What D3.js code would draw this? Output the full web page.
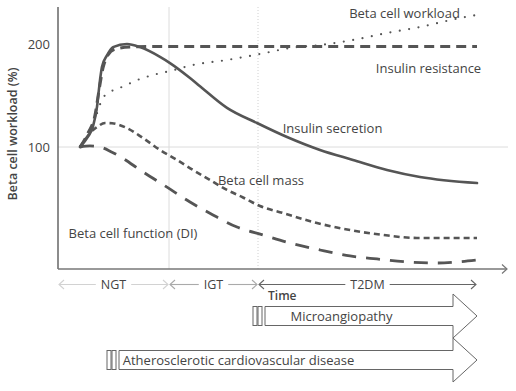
<!DOCTYPE html>
<html>
<head>
<meta charset="utf-8">
<script src="https://cdn.jsdelivr.net/npm/d3@7"></script>
<style>
  html, body { margin: 0; padding: 0; background: #fff; }
  svg { display: block; font-family: "Open Sans", sans-serif; }
</style>
</head>
<body>
<svg id="chart" width="516" height="391"></svg>
<script>
// ---------------- DATA (time units, workload %) ----------------
const insulinSecretion = [[22,100],[30,110],[35,120],[39,139],[42,165],[44,178],[49,189],[55,197],[69,200],[82,197],[102,187.5],[112,181.5],[132,167],[142,159],[169,138],[199,123.3],[229,109.7],[262,97.1],[295,87.4],[329,77.7],[362,70.9],[419,65]];
const insulinResistance = [[22,100],[30,113.6],[37,131],[41,155],[45,176.7],[50,189.3],[57,195.1],[72,197.1],[92,197.5],[200,197.6],[300,197.5],[419,197.5]];
const betaCellWorkload = [[22,100],[32,116.5],[37,126.2],[40,135.9],[45,147.6],[52,153.4],[64,158.3],[82,166],[99,170.9],[112,173.8],[135,179.6],[169,184.5],[202,190.3],[235,196.6],[262,199],[295,203.9],[329,210.7],[362,216.5],[402,225.2],[419,228.2]];
const betaCellMass = [[22,100],[27,106.8],[32,113.6],[39,119.4],[47,123.3],[54,123],[69,118.4],[85,108.7],[102,97.1],[119,87.4],[135,77.7],[152,68],[169,58.3],[185,51],[202,42.7],[225,35.9],[259,26.2],[292,19.4],[325,14.6],[359,11.7],[419,11.7]];
const betaCellFunction = [[22,100],[32,101],[40,100.5],[54,95],[65,89],[82,77.7],[109,61],[132,46.6],[155,34],[179,22.3],[205,14.6],[232,6.8],[262,0],[292,-5.8],[319,-8.7],[352,-11.7],[379,-12.6],[400,-11.5],[419,-9.7]];

const yTicks = [100, 200];
const phases = ["NGT", "IGT", "T2DM"];
const phaseBounds = [0, 111, 200, 419];
const outcomes = ["Microangiopathy", "Atherosclerotic cardiovascular disease"];
const outcomeStart = [207, 61];
const outcomeEnd = 419;
const yLabel = "Beta cell workload (%)";
const timeLabel = "Time";

// ---------------- SCALES ----------------
const svg = d3.select("#chart");
const x = d3.scaleLinear().domain([0, 450]).range([58, 508]);
const y = d3.scaleLinear().domain([100, 200]).range([147, 44]);
const plotTop = 7, plotBottom = 269;
const ink = "#555", txt = "#444";

// gridlines
svg.append("line").attr("x1", x(0)).attr("x2", x(450)).attr("y1", y(100)).attr("y2", y(100))
  .attr("stroke", "#dcdcdc").attr("stroke-width", 1);
svg.append("line").attr("x1", x(phaseBounds[1])).attr("x2", x(phaseBounds[1])).attr("y1", plotTop).attr("y2", plotBottom)
  .attr("stroke", "#dcdcdc").attr("stroke-width", 1);
svg.append("line").attr("x1", x(phaseBounds[2])).attr("x2", x(phaseBounds[2])).attr("y1", plotTop).attr("y2", plotBottom)
  .attr("stroke", "#d0d0d0").attr("stroke-width", 1).attr("stroke-dasharray", "1,2");

// y axis
const yAxis = d3.axisLeft(y).tickValues(yTicks).tickSize(0).tickPadding(8).tickFormat(d3.format("d"));
const gy = svg.append("g").attr("transform", `translate(${x(0)},0)`).call(yAxis);
gy.select(".domain").remove();
gy.selectAll("text").attr("font-size", 13).attr("fill", txt).attr("font-family", "Open Sans");
svg.append("line").attr("x1", x(0)).attr("x2", x(0)).attr("y1", plotTop).attr("y2", plotBottom)
  .attr("stroke", "#666").attr("stroke-width", 1.5);

// x axis with open arrow
svg.append("line").attr("x1", x(0)).attr("x2", x(449)).attr("y1", plotBottom).attr("y2", plotBottom)
  .attr("stroke", "#777").attr("stroke-width", 1.5);
svg.append("path").attr("d", `M${x(449)-5},${plotBottom-4.5}L${x(449)},${plotBottom}L${x(449)-5},${plotBottom+4.5}`)
  .attr("fill", "none").attr("stroke", "#777").attr("stroke-width", 1.2);

// y label
svg.append("text").attr("transform", "translate(13,134) rotate(-90)")
  .attr("text-anchor", "middle").attr("dy", "0.35em")
  .attr("font-size", 12.5).attr("font-weight", 600).attr("fill", txt).text(yLabel);

// ---------------- CURVES ----------------
const line = d3.line().x(d => x(d[0])).y(d => y(d[1])).curve(d3.curveMonotoneX);
const curves = [
  { data: betaCellWorkload, dash: "0,9.5", w: 2.2, cap: "round" },
  { data: betaCellFunction, dash: "14,10", w: 2.8, cap: "butt" },
  { data: betaCellMass, dash: "6,4", w: 2.6, cap: "butt" },
  { data: insulinResistance, dash: "10,6", w: 3, cap: "butt" },
  { data: insulinSecretion, dash: null, w: 2.6, cap: "round" }
];
curves.forEach(c => {
  svg.append("path").attr("d", line(c.data)).attr("fill", "none")
    .attr("stroke", ink).attr("stroke-width", c.w).attr("stroke-linecap", c.cap)
    .attr("stroke-dasharray", c.dash);
});

// curve labels
const labels = [
  ["Beta cell workload", 404.5, 13],
  ["Insulin resistance", 428.5, 68],
  ["Insulin secretion", 332.5, 128],
  ["Beta cell mass", 261, 180],
  ["Beta cell function (DI)", 133, 233]
];
labels.forEach(l => {
  svg.append("text").attr("x", l[1]).attr("y", l[2]).attr("dy", "0.35em").attr("text-anchor", "middle")
    .attr("font-size", 13).attr("fill", txt).text(l[0]);
});

// ---------------- PHASES ----------------
const phaseColors = ["#d2d2d2", "#aaaaaa", "#666666"];
const phaseY = 284.5;
phases.forEach((p, i) => {
  const a = x(phaseBounds[i]) + 1, b = x(phaseBounds[i + 1]) - 1, m = (a + b) / 2;
  const t = svg.append("text").attr("x", m).attr("y", phaseY).attr("dy", "0.35em").attr("text-anchor", "middle")
    .attr("font-size", 12.5).attr("fill", txt).text(p);
  const w = t.node().getComputedTextLength();
  const g = svg.append("g").attr("fill", "none").attr("stroke", phaseColors[i]).attr("stroke-width", 1.1);
  g.append("line").attr("x1", a).attr("x2", m - w / 2 - 5).attr("y1", phaseY).attr("y2", phaseY);
  g.append("line").attr("x1", m + w / 2 + 5).attr("x2", b).attr("y1", phaseY).attr("y2", phaseY);
  g.append("path").attr("d", `M${a+5},${phaseY-4.5}L${a},${phaseY}L${a+5},${phaseY+4.5}`);
  g.append("path").attr("d", `M${b-5},${phaseY-4.5}L${b},${phaseY}L${b-5},${phaseY+4.5}`);
});

svg.append("text").attr("x", x(phaseBounds[2]) + 10).attr("y", 296).attr("dy", "0.35em")
  .attr("font-size", 12).attr("font-weight", 600).attr("fill", txt).text(timeLabel);

// ---------------- OUTCOME BLOCK ARROWS ----------------
const outcomeY = [316, 360];
const bodyH = 9.5, headH = 22, headL = 24;
outcomes.forEach((o, i) => {
  const cy = outcomeY[i];
  const x0 = x(outcomeStart[i]), x1 = x(outcomeEnd);
  const xn = x1 - headL;
  const g = svg.append("g").attr("fill", "#fff").attr("stroke", "#666").attr("stroke-width", 1);
  g.append("rect").attr("x", x0 - 12).attr("y", cy - bodyH).attr("width", 4).attr("height", bodyH * 2);
  g.append("rect").attr("x", x0 - 7).attr("y", cy - bodyH).attr("width", 4).attr("height", bodyH * 2);
  g.append("path").attr("d",
    `M${x0},${cy-bodyH}L${xn},${cy-bodyH}L${xn},${cy-headH}L${x1},${cy}L${xn},${cy+headH}L${xn},${cy+bodyH}L${x0},${cy+bodyH}Z`);
  const cx = i === 0 ? 341.5 : 238.5;
  svg.append("text").attr("x", cx).attr("y", cy).attr("dy", "0.35em").attr("text-anchor", "middle")
    .attr("font-size", 13).attr("fill", txt).text(o);
});
</script>
</body>
</html>
